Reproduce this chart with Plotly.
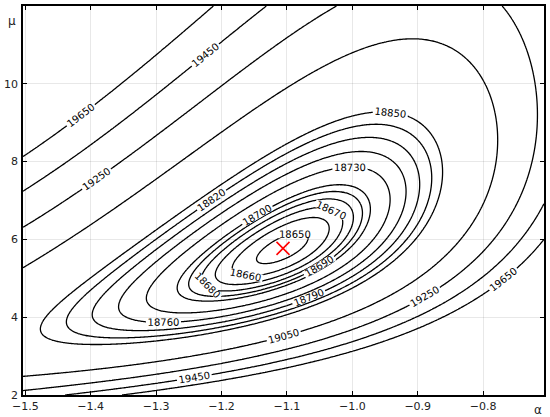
import numpy as np
import plotly.graph_objects as go

# ---- data ----
alpha_range = [-1.5035, -0.707]
mu_range = [2.0, 12.0]
levels_inner = [18650, 18660, 18670, 18680, 18690, 18700]
levels_mid = [18730, 18760, 18790, 18820, 18850]
levels_outer = [19050, 19250, 19450, 19650]
x_ticks = [-1.5, -1.4, -1.3, -1.2, -1.1, -1.0, -0.9, -0.8]
x_tick_text = ["\u22121.5", "\u22121.4", "\u22121.3", "\u22121.2", "\u22121.1", "\u22121.0", "\u22120.9", "\u22120.8"]
y_ticks = [2, 4, 6, 8, 10, 12]
y_tick_text = ["2", "4", "6", "8", "10", "12"]
best_alpha = [-1.106]
best_mu = [5.77]

# ---- surface model ----
z_min = 18646.0
profile_coef = [2569.0, 3285.0, 960.0]   # s^2, s^3, s^4 along alpha
ridge_slope = 1.2                         # d log(mu)/d alpha of the valley
curv_coef = [1510.0, 620.0]               # curvature across valley (log mu)
skew_coef = [0.134, 0.043]                # asymmetry across valley

a = np.linspace(alpha_range[0], alpha_range[1], 341)
m = np.linspace(mu_range[0], mu_range[1], 341)
A, M = np.meshgrid(a, m)
s = A - best_alpha[0]
prof = profile_coef[0] * s**2 + profile_coef[1] * s**3 + profile_coef[2] * s**4
center = np.log(best_mu[0]) + ridge_slope * s
dv = np.log(M) - center
factor = 1 - skew_coef[0] * dv + skew_coef[1] * dv**2
Z = z_min + prof + (curv_coef[0] + curv_coef[1] * s) * dv**2 * factor

fig = go.Figure()
black = [[0, "black"], [1, "black"]]
for lv in (levels_inner, levels_mid, levels_outer):
    size = lv[1] - lv[0]
    fig.add_trace(go.Contour(
        x=a, y=m, z=Z,
        autocontour=False,
        contours=dict(start=lv[0], end=lv[-1], size=size, coloring="lines",
                      showlabels=True, labelformat="d",
                      labelfont=dict(size=10, color="black", family="DejaVu Sans")),
        colorscale=black, showscale=False,
        line=dict(width=1.3, color="black"),
        hoverinfo="skip",
    ))

fig.add_trace(go.Scatter(
    x=best_alpha, y=best_mu, mode="markers",
    marker=dict(symbol="x-thin", size=13, line=dict(color="red", width=1.6), color="red"),
    showlegend=False,
))

axis_common = dict(showline=True, linecolor="black", linewidth=1.5, mirror="allticks",
                   ticks="inside", ticklen=4, tickcolor="black", automargin=False,
                   showgrid=True, gridcolor="rgba(0,0,0,0.09)", gridwidth=1,
                   zeroline=False, tickfont=dict(size=11, color="#222", family="DejaVu Sans"))

fig.update_layout(
    width=550, height=417,
    margin=dict(l=23, r=6, t=6, b=22, autoexpand=False),
    paper_bgcolor="white", plot_bgcolor="white",
    showlegend=False,
    xaxis=dict(range=alpha_range, tickvals=x_ticks, ticktext=x_tick_text, **axis_common),
    yaxis=dict(range=mu_range, tickvals=y_ticks, ticktext=y_tick_text, ticklabelstandoff=1,
               **axis_common),
    annotations=[
        dict(text="\u03bc", x=0, y=0.985, xref="paper", yref="paper", xanchor="right", yanchor="top",
             xshift=-5, showarrow=False, font=dict(size=12, color="#222", family="DejaVu Sans")),
        dict(text="\u03b1", x=1, y=0, xref="paper", yref="paper", xanchor="right", yanchor="top",
             yshift=-6, showarrow=False, font=dict(size=12, color="#222", family="DejaVu Sans")),
    ],
)

fig.write_html("out.html", config={"displayModeBar": False},
               post_script="document.body.style.margin='0';document.body.style.padding='0';"
                           "document.body.style.overflow='hidden';")
